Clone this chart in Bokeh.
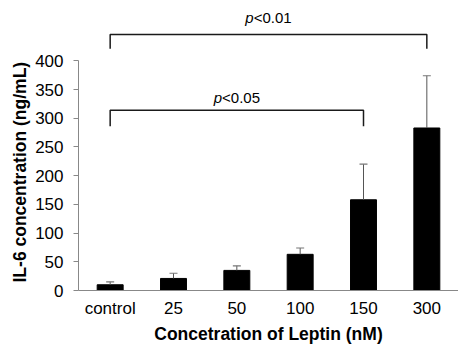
import math
from bokeh.plotting import figure
from bokeh.models import (ColumnDataSource, FactorRange, Range1d, Title,
                          SingleIntervalTicker)
from bokeh.core.properties import value
from bokeh.embed import file_html
from bokeh.resources import INLINE

# ---- data ----
categories = ["control", "25", "50", "100", "150", "300"]
il6_mean = [10, 21, 35, 63, 158, 283]
il6_err = [5, 9, 8, 11, 62, 91]

# significance brackets
sig_from = ["control", "control"]
sig_to = ["150", "300"]
sig_text = ["<0.05", "<0.01"]
bracket_top = [314, 446]
bracket_leg = [286, 421]
sig_label_y = [336, 475]

FONT = "Liberation Sans"
W, H = 458, 346
LEFT = 78

upper = [m + e for m, e in zip(il6_mean, il6_err)]
src = ColumnDataSource(dict(cat=categories, mean=il6_mean, upper=upper))

p = figure(width=W, height=H, output_backend="svg", toolbar_location=None,
           x_range=FactorRange(factors=categories, range_padding=0),
           y_range=Range1d(0, 505),
           min_border_left=LEFT, min_border_right=0, min_border_top=0)
p.outline_line_color = None
p.xgrid.visible = False
p.ygrid.visible = False
p.background_fill_color = "white"
p.border_fill_color = "white"

p.vbar(x="cat", top="mean", width=0.41, source=src, color="black")
p.segment(x0="cat", y0="mean", x1="cat", y1="upper", source=src,
          line_color="#555555", line_width=1)
p.scatter(x="cat", y="upper", source=src, marker="dash", size=8,
          line_color="#777777", line_width=1.2)

# brackets
xs, ys, mids = [], [], []
for a, b, yt, yl in zip(sig_from, sig_to, bracket_top, bracket_leg):
    xa = categories.index(a) + 0.5
    xb = categories.index(b) + 0.5
    xs.append([xa, xa, xb, xb])
    ys.append([yl, yt, yt, yl])
    mids.append((xa + xb) / 2)
p.multi_line(xs=xs, ys=ys, line_color="#1a1a1a", line_width=1.5)

fs = 15
p_w = 0.556 * fs
rest_w = 2.53 * fs
off = -(p_w + rest_w) / 2 + p_w
p.text(x=mids, y=sig_label_y, text=["p"] * len(mids), text_align="right",
       text_baseline="middle", x_offset=off, text_font=value(FONT),
       text_font_size=f"{fs}px", text_font_style="italic", text_color="black")
p.text(x=mids, y=sig_label_y, text=sig_text, text_align="left",
       text_baseline="middle", x_offset=off, text_font=value(FONT),
       text_font_size=f"{fs}px", text_color="black")

# y axis
ya = p.yaxis[0]
ya.bounds = (0, 400)
ya.ticker = SingleIntervalTicker(interval=50, num_minor_ticks=0)
ya.axis_line_color = "#888888"
ya.major_tick_line_color = "#888888"
ya.major_tick_out = 5
ya.major_tick_in = 0
ya.minor_tick_line_color = None
ya.major_label_standoff = 10
ya.major_label_text_font = FONT
ya.major_label_text_font_size = "17px"
ya.major_label_text_color = "black"

# x axis
xa_ = p.xaxis[0]
xa_.axis_line_color = "#888888"
xa_.major_tick_line_color = None
xa_.minor_tick_line_color = None
xa_.major_tick_out = 0
xa_.major_label_standoff = 8
xa_.major_label_text_font = FONT
xa_.major_label_text_font_size = "17px"
xa_.major_label_text_color = "black"
xa_.axis_label = "Concetration of Leptin (nM)"
xa_.axis_label_text_font = FONT
xa_.axis_label_text_font_size = "17.5px"
xa_.axis_label_text_font_style = "bold"
xa_.axis_label_text_color = "black"
xa_.axis_label_standoff = 3

# y-axis title, placed along the 0..400 axis span
ytitle = Title(text="IL-6 concentration (ng/mL)", align="left", offset=8,
               vertical_align="middle", standoff=4,
               text_font=FONT, text_font_size="17.5px", text_font_style="bold",
               text_color="black")
p.add_layout(ytitle, "left")

open("out.html", "w").write(file_html(p, INLINE))
